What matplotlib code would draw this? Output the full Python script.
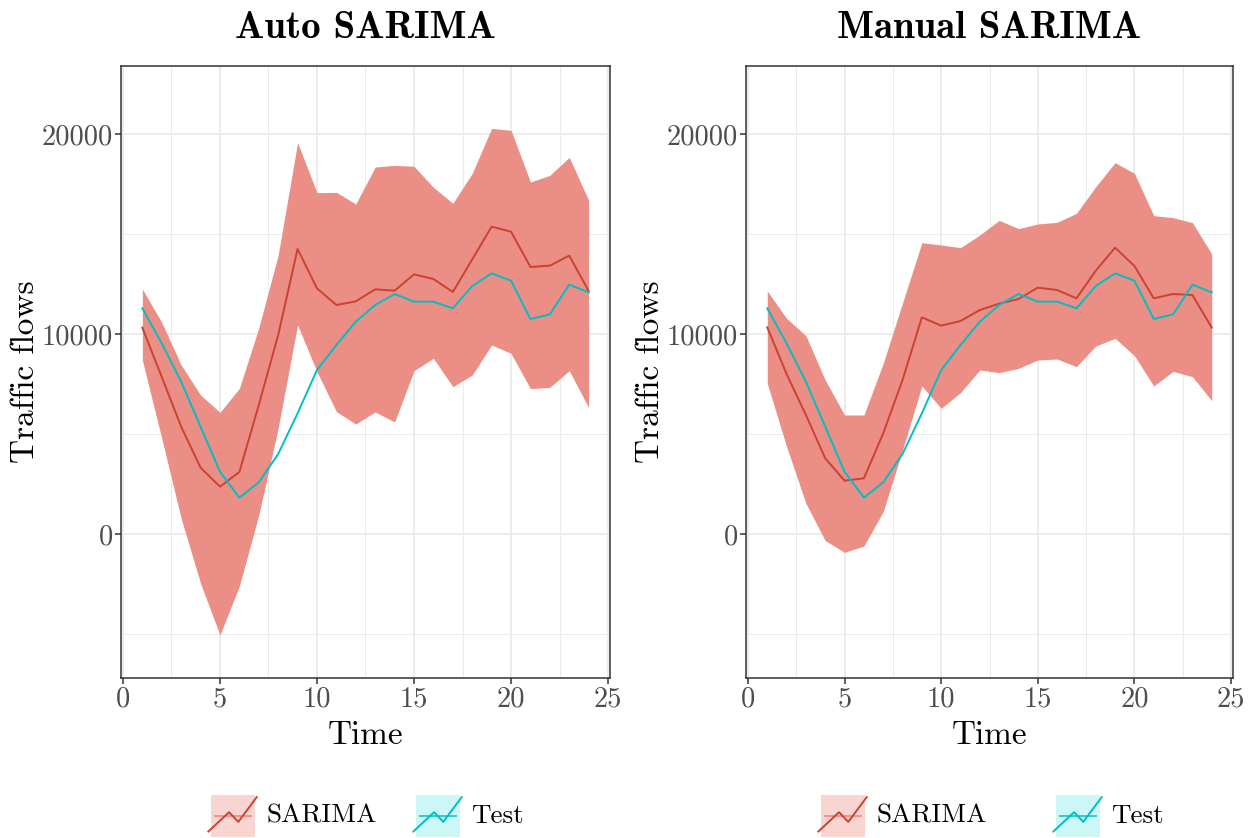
import matplotlib
matplotlib.use("Agg")
import matplotlib.pyplot as plt
from matplotlib.patches import Rectangle

# time index for the 24 test points
t = list(range(1, 25))

test = [11283, 9533, 7617, 5367, 3117, 1817, 2583, 4000, 6033, 8200, 9450, 10617,
        11450, 12000, 11617, 11617, 11283, 12400, 13033, 12667, 10750, 10983, 12467, 12083]

auto_mean = [10317, 7850, 5367, 3317, 2367, 3100, 6450, 9950, 14250, 12283, 11450, 11633,
             12233, 12167, 12983, 12750, 12100, 13733, 15367, 15117, 13350, 13417, 13917, 12150]
auto_hi = [12250, 10583, 8450, 6950, 6083, 7283, 10300, 13950, 19567, 17067, 17083, 16500,
           18350, 18433, 18383, 17333, 16533, 18033, 20283, 20183, 17600, 17933, 18833, 16683]
auto_lo = [8700, 4783, 783, -2467, -5050, -2600, 950, 5300, 10450, 8117, 6117, 5500,
           6100, 5600, 8167, 8783, 7367, 7950, 9450, 9033, 7267, 7333, 8167, 6317]

man_mean = [10333, 8000, 5950, 3783, 2667, 2783, 5033, 7700, 10833, 10417, 10650, 11200,
            11517, 11750, 12317, 12200, 11783, 13167, 14317, 13400, 11783, 12000, 11950, 10317]
man_hi = [12150, 10783, 9917, 7700, 5950, 5950, 8533, 11550, 14567, 14450, 14317, 14950,
          15683, 15267, 15500, 15583, 16033, 17367, 18567, 18033, 15917, 15817, 15567, 14000]
man_lo = [7533, 4367, 1533, -333, -917, -600, 1117, 4200, 7400, 6283, 7067, 8200,
          8067, 8283, 8700, 8750, 8367, 9400, 9783, 8917, 7400, 8133, 7867, 6667]

titles = ["Auto SARIMA", "Manual SARIMA"]
x_ticks = [0, 5, 10, 15, 20, 25]
y_ticks = [0, 10000, 20000]

RIBBON = "#EB8E86"
FC_LINE = "#C94330"
TEST_LINE = "#00BFC4"
GRID = "#EBEBEB"
TXT = "#4D4D4D"

plt.rcParams["axes.formatter.use_mathtext"] = True

fig = plt.figure(figsize=(12.54, 8.38), dpi=100)
W, H = 1254, 838


def px_axes(x0, y0, x1, y1):
    return fig.add_axes([x0 / W, 1 - y1 / H, (x1 - x0) / W, (y1 - y0) / H])


panels = [
    (px_axes(121, 66, 610, 678), auto_mean, auto_lo, auto_hi),
    (px_axes(746, 66, 1233, 678), man_mean, man_lo, man_hi),
]

for (ax, mean, lo, hi), title in zip(panels, titles):
    ax.fill_between(t, lo, hi, color=RIBBON, lw=0, zorder=2)
    ax.plot(t, mean, color=FC_LINE, lw=1.4, zorder=3)
    ax.plot(t, test, color=TEST_LINE, lw=1.4, zorder=4)

    ax.set_xlim(-0.1, 25.1)
    ax.set_ylim(-7200, 23400)
    ax.set_xticks(x_ticks)
    ax.set_xticks([2.5, 7.5, 12.5, 17.5, 22.5], minor=True)
    ax.set_yticks(y_ticks)
    ax.set_yticks([-5000, 5000, 15000], minor=True)
    ax.set_xticklabels([str(v) for v in x_ticks])
    ax.set_yticklabels([str(v) for v in y_ticks])

    ax.grid(which="major", color=GRID, lw=1.3, zorder=0)
    ax.grid(which="minor", color=GRID, lw=0.7, zorder=0)
    ax.set_axisbelow(True)
    ax.tick_params(which="major", length=4, width=1.1, color="#333333",
                   labelsize=20.5, labelcolor=TXT, pad=2)
    ax.tick_params(which="minor", length=0)
    for lab in ax.get_xticklabels() + ax.get_yticklabels():
        lab.set_family("cmr10")
    for sp in ax.spines.values():
        sp.set_color("#333333")
        sp.set_linewidth(1.1)

    ax.set_xlabel("Time", family="cmr10", fontsize=24, labelpad=6)
    ax.set_ylabel("Traffic flows", family="cmr10", fontsize=24, labelpad=1)
    ax.set_title(title, family="cmb10", fontsize=28, pad=20)


# legend keys underneath each panel
def legend_key(x0, fill, hline, line, label):
    kax = px_axes(x0, 795, x0 + 44, 837)
    kax.set_xlim(0, 1)
    kax.set_ylim(0, 1)
    kax.axis("off")
    kax.add_patch(Rectangle((0, 0), 1, 1, facecolor=fill, lw=0))
    kax.plot([0.08, 0.92], [0.5, 0.5], color=hline, lw=1.4)
    kax.plot([-0.06, 0.41, 0.62, 1.04], [0.13, 0.59, 0.36, 0.95],
             color=line, lw=1.4, clip_on=False)
    fig.text((x0 + 55) / W, 1 - 816 / H, label, family="cmr10",
             fontsize=19.5, va="center", ha="left")


legend_key(211, "#F9D5D2", "#F2918A", FC_LINE, "SARIMA")
legend_key(416, "#CCF7F7", "#3DC8CC", TEST_LINE, "Test")
legend_key(821, "#F9D5D2", "#F2918A", FC_LINE, "SARIMA")
legend_key(1056, "#CCF7F7", "#3DC8CC", TEST_LINE, "Test")

fig.savefig("out.png", dpi=100, facecolor="white")
